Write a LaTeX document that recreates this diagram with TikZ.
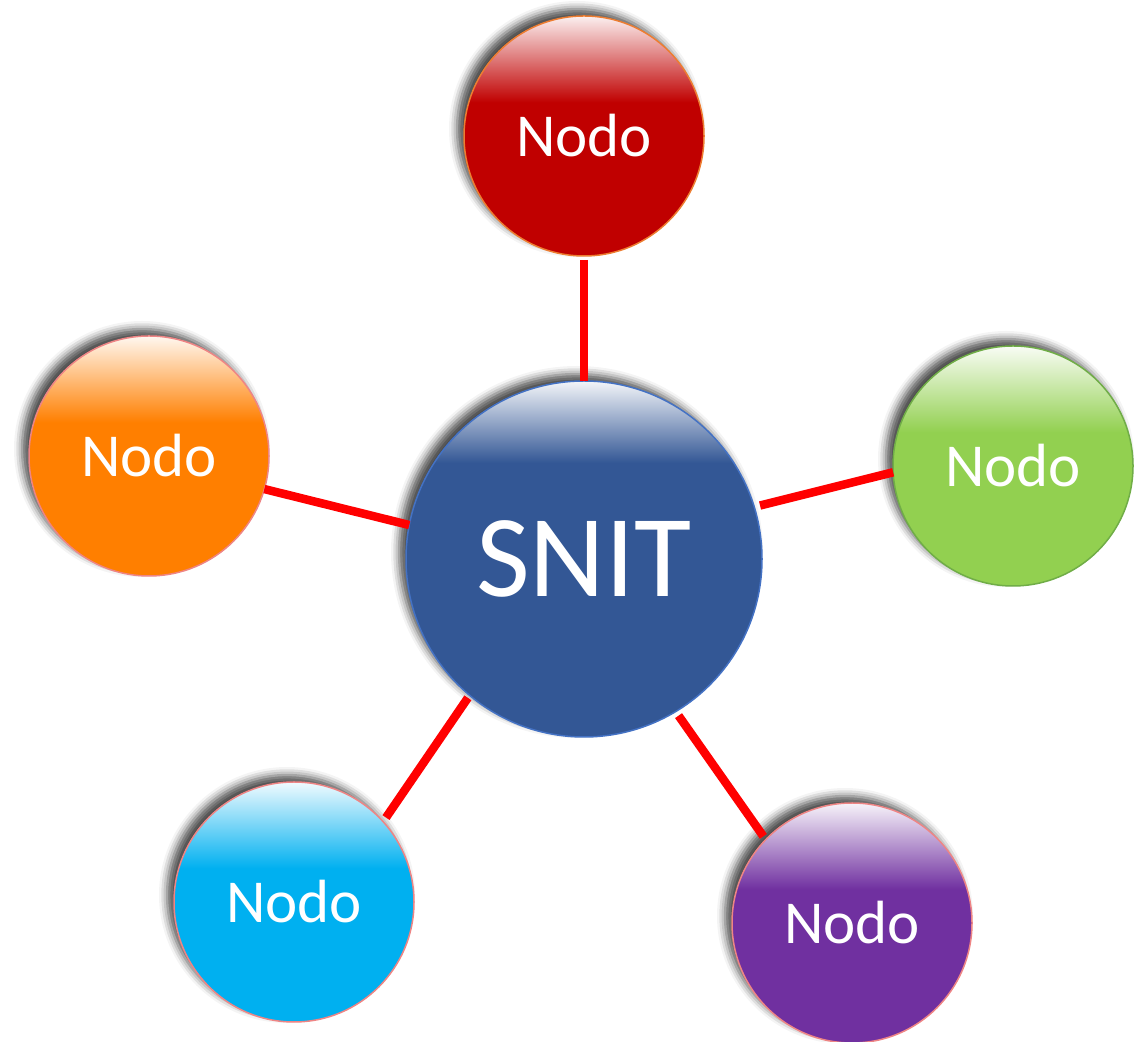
\documentclass[tikz,border=0pt]{standalone}
\usepackage{fontspec}
\setmainfont{Carlito}
\usetikzlibrary{shadows.blur}
\definecolor{cRed}{HTML}{C00000}
\definecolor{cOrange}{HTML}{FF7F00}
\definecolor{cGreen}{HTML}{92D050}
\definecolor{cCyan}{HTML}{00B0F0}
\definecolor{cPurple}{HTML}{7030A0}
\definecolor{cBlue}{HTML}{335795}
\definecolor{bOrange}{HTML}{ED7D31}
\definecolor{bBlue}{HTML}{4472C4}
\definecolor{bGreen}{HTML}{70AD47}
\definecolor{bPink}{HTML}{EE8585}
\definecolor{lineRed}{HTML}{FF0000}
\colorlet{gbase}{cRed}
\colorlet{gtop}{white}
\pgfdeclareverticalshading[gbase,gtop]{glossysmall}{100bp}{color(0bp)=(gbase); color(57bp)=(gbase); color(75bp)=(gtop); color(100bp)=(gtop)}
\pgfdeclareverticalshading[gbase,gtop]{glossybig}{100bp}{color(0bp)=(gbase); color(63.5bp)=(gbase); color(75bp)=(gtop); color(100bp)=(gtop)}
\tikzset{
  ball/.style={circle, inner sep=0pt, outer sep=0pt, line width=1.5pt, text=white,
    minimum size=240pt, font=\fontsize{61}{61}\selectfont,
    blur shadow={shadow xshift=-7pt, shadow yshift=7pt, shadow blur radius=8pt, shadow opacity=70}},
  glossy/.style n args={3}{/utils/exec={\colorlet{gbase}{#1}\colorlet{gtop}{#1!6}},
    draw=#2, shade, shading=#3},
  conn/.style={draw=lineRed, line width=8.5pt}
}
\begin{document}
\begin{tikzpicture}[x=1pt,y=1pt]
\useasboundingbox (0,0) rectangle (1148,1041);
\node[ball, glossy={cBlue}{bBlue}{glossybig}, minimum size=356pt, font=\fontsize{117}{117}\selectfont] (c) at (584,482) {SNIT};
\node[ball, glossy={cRed}{bOrange}{glossysmall}] (top) at (584,905) {Nodo};
\node[ball, glossy={cOrange}{bPink}{glossysmall}] (lft) at (149,585) {Nodo};
\node[ball, glossy={cGreen}{bGreen}{glossysmall}] (rgt) at (1013,575) {Nodo};
\node[ball, glossy={cCyan}{bPink}{glossysmall}] (bl) at (294,139) {Nodo};
\node[ball, glossy={cPurple}{bPink}{glossysmall}] (br) at (852,118) {Nodo};
\draw[conn, shorten <=4pt] (top.270) -- (c.90);
\draw[conn] (lft.-16) -- (c.169);
\draw[conn, shorten <=6pt] (c.17) -- (rgt.183);
\draw[conn, shorten <=5pt, shorten >=3pt] (bl.42) -- (c.230);
\draw[conn, shorten <=5pt, shorten >=4pt] (c.301) -- (br.136);
\end{tikzpicture}
\end{document}
